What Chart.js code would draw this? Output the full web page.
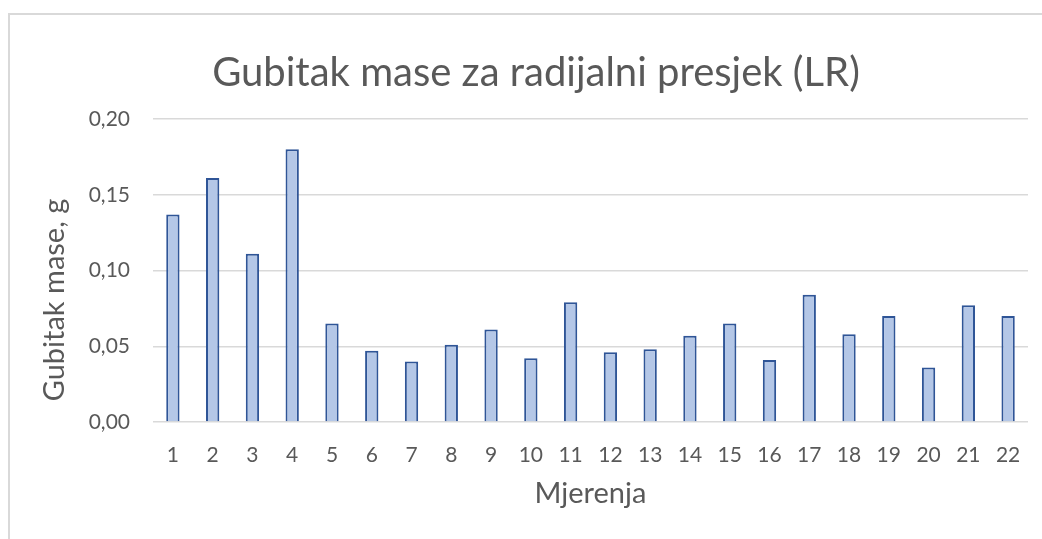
<!DOCTYPE html>
<html>
<head>
<meta charset="utf-8">
<script src="https://cdn.jsdelivr.net/npm/chart.js@4/dist/chart.umd.min.js"></script>
<style>
  html, body { margin: 0; padding: 0; background: #fff; overflow: hidden; }
  #wrap { position: relative; width: 1042px; height: 539px; }
  #frame {
    position: absolute; left: 8px; top: 13px; width: 1100px; height: 600px;
    border-left: 2px solid #d9d9d9; border-top: 2px solid #d9d9d9;
  }
  #chart { position: absolute; left: 0; top: 0; }
</style>
</head>
<body>
<div id="wrap">
  <div id="frame"></div>
  <canvas id="chart" width="1042" height="539"></canvas>
</div>
<script>
// podaci - gubitak mase po mjerenju
var mjerenja = ['1', '2', '3', '4', '5', '6', '7', '8', '9', '10', '11',
                '12', '13', '14', '15', '16', '17', '18', '19', '20', '21', '22'];
var gubitakMase = [0.137, 0.161, 0.111, 0.180, 0.065, 0.047, 0.040, 0.051, 0.061, 0.042, 0.079,
                   0.046, 0.048, 0.057, 0.065, 0.041, 0.084, 0.058, 0.070, 0.036, 0.077, 0.070];
var yTicks = [0, 0.05, 0.10, 0.15, 0.20];

var FONT = 'Lato, "Open Sans", sans-serif',
    GREY = '#595959',
    GRID = '#d9d9d9';

// naslov y osi - Excel ga ne centrira tocno na plot area
var yTitlePlugin = {
    id: 'yTitle',
    afterDraw: function(chart) {
        var c = chart.ctx;
        c.save();
        c.translate(55, 300);
        c.rotate(-Math.PI / 2);
        c.fillStyle = GREY;
        c.font = '29px ' + FONT;
        c.textAlign = 'center';
        c.textBaseline = 'middle';
        c.fillText('Gubitak mase, g', 0, 0);
        c.restore();
    }
};

var ctx = document.getElementById('chart').getContext('2d');
var chart = new Chart(ctx, {
    type: 'bar',
    data: {
        labels: mjerenja,
        datasets: [{
            label: 'Gubitak mase',
            data: gubitakMase,
            backgroundColor: '#b4c7e7',
            borderColor: '#2f5597',
            borderWidth: 2,
            categoryPercentage: 1,
            barPercentage: 0.335
        }]
    },
    plugins: [yTitlePlugin],
    options: {
        responsive: false,
        animation: false,
        layout: { padding: { left: 44, right: 14, top: 0, bottom: 0 } },
        plugins: {
            legend: { display: false },
            tooltip: { enabled: false },
            title: {
                display: true,
                text: 'Gubitak mase za radijalni presjek (LR)',
                color: GREY,
                font: { family: FONT, size: 40, weight: 'normal' },
                padding: { top: 49, bottom: 22 }
            }
        },
        scales: {
            x: {
                grid: { display: false, drawTicks: false },
                border: { display: false },
                ticks: { color: GREY, font: { family: FONT, size: 21 }, padding: 21, maxRotation: 0 },
                title: {
                    display: true,
                    text: 'Mjerenja',
                    color: GREY,
                    font: { family: FONT, size: 29 },
                    padding: { top: 0, bottom: 28 }
                },
                afterFit: function(s) { s.height = 117; }
            },
            y: {
                min: 0,
                max: 0.2,
                afterBuildTicks: function(s) {
                    s.ticks = yTicks.map(function(v) { return { value: v }; });
                },
                grid: { color: GRID, lineWidth: 1.5, drawTicks: false },
                border: { display: false },
                ticks: {
                    color: GREY,
                    font: { family: FONT, size: 21 },
                    padding: 23,
                    callback: function(v) { return Number(v).toFixed(2).replace('.', ','); }
                },
                afterFit: function(s) { s.width = 109; }
            }
        }
    }
});
</script>
</body>
</html>
